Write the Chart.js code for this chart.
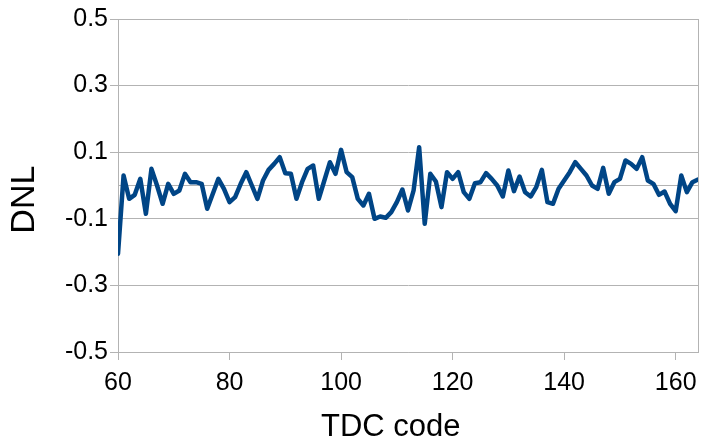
<!DOCTYPE html>
<html>
<head>
<meta charset="utf-8">
<script src="https://cdn.jsdelivr.net/npm/chart.js@4"></script>
<style>
  html, body { margin: 0; padding: 0; background: #ffffff; }
  #wrap { width: 706px; height: 447px; }
</style>
</head>
<body>
<div id="wrap"><canvas id="c" width="706" height="447"></canvas></div>
<script>
// TDC codes 60..164
const codes = [];
for (let c = 60; c <= 164; c++) codes.push(c);

const dnl = [
  -0.205, 0.03, -0.04, -0.028, 0.02, -0.085, 0.05, 0.0, -0.055, 0.005,   // 60-69
  -0.025, -0.015, 0.035, 0.01, 0.01, 0.005, -0.07, -0.025, 0.02, -0.01,  // 70-79
  -0.05, -0.035, 0.005, 0.04, 0.0, -0.04, 0.015, 0.047, 0.065, 0.085,    // 80-89
  0.037, 0.035, -0.04, 0.01, 0.05, 0.06, -0.04, 0.015, 0.07, 0.035,      // 90-99
  0.107, 0.04, 0.025, -0.04, -0.06, -0.025, -0.1, -0.093, -0.097, -0.08, // 100-109
  -0.05, -0.012, -0.075, -0.015, 0.115, -0.115, 0.035, 0.012, -0.065, 0.04, // 110-119
  0.02, 0.04, -0.02, -0.04, 0.007, 0.01, 0.037, 0.02, 0.0, -0.033,       // 120-129
  0.045, -0.017, 0.027, -0.02, -0.033, -0.005, 0.047, -0.05, -0.055, -0.01, // 130-139
  0.015, 0.04, 0.07, 0.05, 0.03, 0.0, -0.01, 0.053, -0.025, 0.01,        // 140-149
  0.02, 0.075, 0.065, 0.05, 0.085, 0.015, 0.005, -0.028, -0.018, -0.055, // 150-159
  -0.077, 0.03, -0.02, 0.01, 0.018                                        // 160-164
];

const xTicks = [60, 80, 100, 120, 140, 160];
const yTicks = [-0.5, -0.4, -0.3, -0.2, -0.1, 0, 0.1, 0.2, 0.3, 0.4, 0.5];
const yTickLabels = [-0.5, -0.3, -0.1, 0.1, 0.3, 0.5];
const xMin = 60, xMax = 164, yMin = -0.5, yMax = 0.5;

const GRID = '#b3b3b3';
const LINE = '#004586';
const FONT = "'Liberation Sans', Arial, sans-serif";
const NONE = 'rgba(0,0,0,0)';

const points = codes.map((c, i) => ({ x: c, y: dnl[i] }));

const isLabeled = v => yTickLabels.some(t => Math.abs(t - v) < 1e-6);

new Chart(document.getElementById('c'), {
  type: 'scatter',
  data: {
    datasets: [{
      data: points,
      showLine: true,
      borderColor: LINE,
      backgroundColor: LINE,
      borderWidth: 4.5,
      pointRadius: 0,
      pointHoverRadius: 0,
      tension: 0,
      borderJoinStyle: 'round',
      borderCapStyle: 'round'
    }]
  },
  options: {
    responsive: false,
    animation: false,
    devicePixelRatio: 1,
    layout: { padding: { top: 19, right: 3, left: 0, bottom: 0 } },
    plugins: { legend: { display: false }, tooltip: { enabled: false } },
    scales: {
      x: {
        type: 'linear',
        min: xMin,
        max: xMax,
        afterBuildTicks: (axis) => {
          axis.ticks = xTicks.map(v => ({ value: v })).concat([{ value: xMax }]);
        },
        afterFit: (axis) => { axis.height = 95; },
        ticks: {
          autoSkip: false,
          maxRotation: 0,
          padding: 8,
          color: '#000000',
          font: { family: FONT, size: 25 },
          callback: (v) => (xTicks.includes(v) ? String(v) : '')
        },
        grid: {
          drawOnChartArea: true,
          color: (ctx) => (ctx.tick && ctx.tick.value === xMax ? GRID : NONE),
          tickColor: (ctx) => (ctx.tick && ctx.tick.value === xMax ? NONE : GRID),
          tickLength: 8,
          lineWidth: 1
        },
        border: { display: true, color: GRID },
        title: {
          display: true,
          text: 'TDC code    ',
          color: '#000000',
          font: { family: FONT, size: 31, lineHeight: 1.0 },
          padding: { top: 0, bottom: 4 }
        }
      },
      y: {
        type: 'linear',
        min: yMin,
        max: yMax,
        afterBuildTicks: (axis) => {
          axis.ticks = yTicks.map(v => ({ value: v }));
        },
        afterFit: (axis) => { axis.width = 118; },
        ticks: {
          autoSkip: false,
          padding: 2,
          color: '#000000',
          font: { family: FONT, size: 25 },
          callback: (v) => (isLabeled(v) ? (Math.round(v * 10) / 10).toFixed(1) : '')
        },
        grid: {
          color: (ctx) => {
            const v = ctx.tick ? ctx.tick.value : NaN;
            return (isLabeled(v) || v === 0) ? GRID : NONE;
          },
          tickColor: (ctx) => (ctx.tick && isLabeled(ctx.tick.value) ? GRID : NONE),
          tickLength: 8,
          lineWidth: 1
        },
        border: { display: true, color: GRID },
        title: {
          display: true,
          text: 'DNL   ',
          color: '#000000',
          font: { family: FONT, size: 34, lineHeight: 1.0 },
          padding: { top: 8, bottom: 0 }
        }
      }
    }
  }
});
</script>
</body>
</html>
